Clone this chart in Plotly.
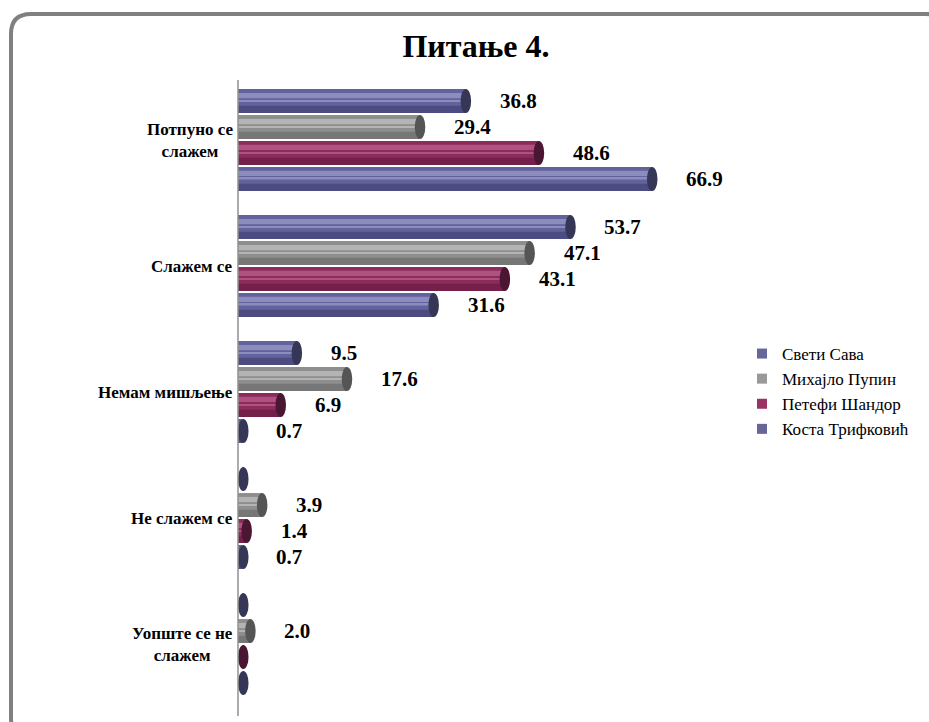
import plotly.graph_objects as go

# Survey answers (percent) per school
categories = ["Потпуно се<br>слажем", "Слажем се", "Немам мишљење", "Не слажем се", "Уопште се не<br>слажем"]
series_names = ["Свети Сава", "Михајло Пупин", "Петефи Шандор", "Коста Трифковић"]
sveti_sava = [36.8, 53.7, 9.5, 0.0, 0.0]
mihajlo_pupin = [29.4, 47.1, 17.6, 3.9, 2.0]
petefi_sandor = [48.6, 43.1, 6.9, 1.4, 0.0]
kosta_trifkovic = [66.9, 31.6, 0.7, 0.7, 0.0]
series_values = [sveti_sava, mihajlo_pupin, petefi_sandor, kosta_trifkovic]

# (base, light stripe, dark shade, end cap, legend swatch)
palettes = [
    ("#62629c", "#8c8cbe", "#4c4c82", "#363656", "#666699"),
    ("#8e8e8e", "#b4b4b4", "#777777", "#555555", "#999999"),
    ("#8c2c5c", "#b0527f", "#74204b", "#4a1632", "#993366"),
    ("#62629c", "#8c8cbe", "#4c4c82", "#363656", "#666699"),
]

FONT = "Liberation Serif, Noto Serif, DejaVu Serif, serif"
W, H = 929, 722
ML, MR, MT, MB = 238, 174, 77, 15
X_MAX = 83.5

slot = 0.206
bar_w = 0.19
group_start = -2 * slot
cap_half = 0.85

fig = go.Figure()
shapes = []
annotations = []
ypos = list(range(len(categories)))

for j, (name, vals) in enumerate(zip(series_names, series_values)):
    base, light, dark, cap, swatch = palettes[j]
    off = group_start + j * slot + (slot - bar_w) / 2
    # main cylinder body
    fig.add_trace(go.Bar(
        x=vals, y=ypos, orientation="h", name=name,
        offset=off, width=bar_w,
        marker=dict(color=base, line=dict(width=0)),
        showlegend=False, hoverinfo="x+name",
    ))
    # lower shading
    fig.add_trace(go.Bar(
        x=vals, y=ypos, orientation="h",
        offset=off + bar_w * 0.70, width=bar_w * 0.30,
        marker=dict(color=dark, line=dict(width=0)),
        showlegend=False, hoverinfo="skip",
    ))
    # upper highlight stripes
    fig.add_trace(go.Bar(
        x=vals, y=ypos, orientation="h",
        offset=off + bar_w * 0.16, width=bar_w * 0.22,
        marker=dict(color=light, line=dict(width=0)),
        showlegend=False, hoverinfo="skip",
    ))
    fig.add_trace(go.Bar(
        x=vals, y=ypos, orientation="h",
        offset=off + bar_w * 0.46, width=bar_w * 0.06,
        marker=dict(color=light, line=dict(width=0)),
        showlegend=False, hoverinfo="skip",
    ))
    # legend entry
    fig.add_trace(go.Scatter(
        x=[None], y=[None], mode="markers", name=name,
        marker=dict(symbol="square", size=10, color=swatch),
        showlegend=True,
    ))
    for i, v in enumerate(vals):
        c = max(v, cap_half)
        shapes.append(dict(
            type="circle", xref="x", yref="y", layer="above",
            x0=c - cap_half, x1=c + cap_half,
            y0=i + off, y1=i + off + bar_w,
            fillcolor=cap, line=dict(width=0),
        ))
        if v > 0:
            annotations.append(dict(
                x=v, y=i + off + bar_w / 2, xref="x", yref="y",
                text=f"<b>{v:.1f}</b>", showarrow=False, xanchor="left", yanchor="middle",
                xshift=32, font=dict(family=FONT, size=21, color="black"),
            ))

# category labels, centred text blocks left of the axis
for i, cat in enumerate(categories):
    annotations.append(dict(
        x=0, y=i, xref="paper", yref="y", text=f"<b>{cat}</b>",
        showarrow=False, xanchor="right", yanchor="middle", align="center",
        xshift=-3, font=dict(family=FONT, size=17, color="black"),
    ))

# rounded frame around the chart (pixel values converted to paper)
pw, ph = W - ML - MR, H - MT - MB
def px(xp):
    return (xp - ML) / pw
def py(yp):
    return 1 - (yp - MT) / ph
left, top, right, bottom, r = 11, 14, 946, 738, 20
path = (
    f"M {px(left)},{py(top + r)} "
    f"Q {px(left)},{py(top)} {px(left + r)},{py(top)} "
    f"L {px(right - r)},{py(top)} "
    f"Q {px(right)},{py(top)} {px(right)},{py(top + r)} "
    f"L {px(right)},{py(bottom - r)} "
    f"Q {px(right)},{py(bottom)} {px(right - r)},{py(bottom)} "
    f"L {px(left + r)},{py(bottom)} "
    f"Q {px(left)},{py(bottom)} {px(left)},{py(bottom - r)} Z"
)
shapes.append(dict(type="path", xref="paper", yref="paper", path=path,
                   line=dict(color="#808080", width=4), layer="below"))

fig.update_layout(
    width=W, height=H,
    margin=dict(l=ML, r=MR, t=MT, b=MB, pad=0),
    paper_bgcolor="white", plot_bgcolor="white",
    barmode="overlay",
    title=dict(text="<b>Питање 4.</b>", x=476 / W, xanchor="center",
               y=1 - 46 / H, yanchor="middle",
               font=dict(family=FONT, size=32, color="black")),
    xaxis=dict(range=[0, X_MAX], visible=False, fixedrange=True),
    yaxis=dict(range=[len(categories) - 0.5, -0.5], showticklabels=False,
               showgrid=False, zeroline=False, showline=False, ticks=""),
    legend=dict(x=px(742), y=py(336), xanchor="left", yanchor="top",
                font=dict(family=FONT, size=17, color="black"),
                itemwidth=30, tracegroupgap=0, bgcolor="rgba(0,0,0,0)"),
    shapes=shapes + [dict(type="line", xref="paper", yref="paper",
                          x0=0, x1=0, y0=py(80), y1=py(716),
                          line=dict(color="#909090", width=1.5))],
    annotations=annotations,
    showlegend=True,
)

fig.write_html("out.html")
